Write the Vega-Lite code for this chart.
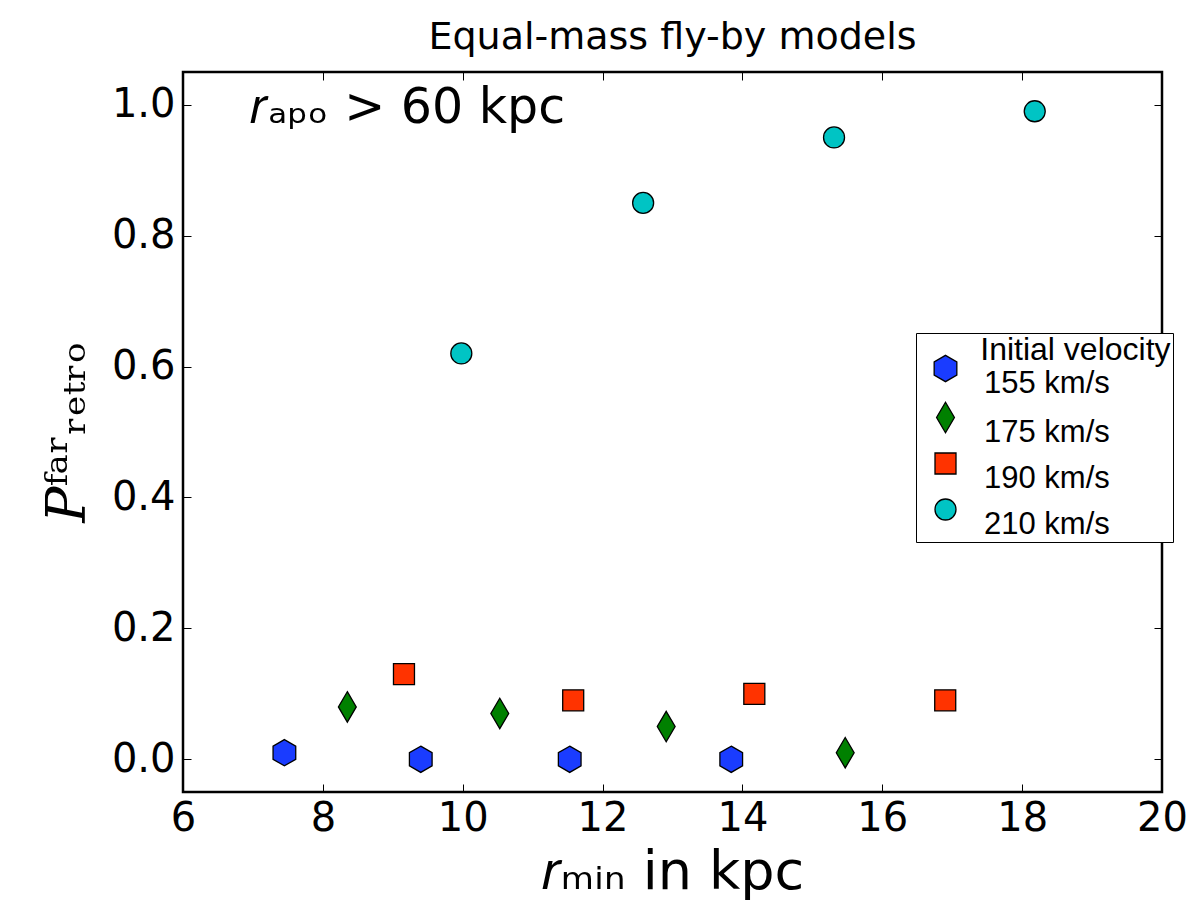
{
  "$schema": "https://vega.github.io/schema/vega-lite/v6.json",
  "width": 979,
  "height": 720,
  "autosize": {"type": "none"},
  "padding": {"left": 183, "top": 72, "right": 33, "bottom": 111},
  "background": "white",
  "title": {"text": "Equal-mass fly-by models", "font": "DejaVu Sans", "fontSize": 38, "fontWeight": "normal", "color": "black", "offset": 15},
  "config": {
    "view": {"stroke": "black", "strokeWidth": 2.5},
    "axis": {"domain": false, "grid": false, "tickColor": "black", "tickWidth": 1, "labelFont": "DejaVu Sans", "labelFontSize": 40, "labelColor": "black", "titleColor": "black", "titleFontWeight": "normal"}
  },
  "datasets": {
    "pts": [
      {"rmin": 7.45, "p": 0.01, "v": "155 km/s"},
      {"rmin": 9.40, "p": 0.0, "v": "155 km/s"},
      {"rmin": 11.53, "p": 0.0, "v": "155 km/s"},
      {"rmin": 13.84, "p": 0.0, "v": "155 km/s"},
      {"rmin": 8.35, "p": 0.08, "v": "175 km/s"},
      {"rmin": 10.53, "p": 0.07, "v": "175 km/s"},
      {"rmin": 12.91, "p": 0.05, "v": "175 km/s"},
      {"rmin": 15.47, "p": 0.01, "v": "175 km/s"},
      {"rmin": 9.16, "p": 0.13, "v": "190 km/s"},
      {"rmin": 11.58, "p": 0.09, "v": "190 km/s"},
      {"rmin": 14.17, "p": 0.10, "v": "190 km/s"},
      {"rmin": 16.90, "p": 0.09, "v": "190 km/s"},
      {"rmin": 9.98, "p": 0.62, "v": "210 km/s"},
      {"rmin": 12.58, "p": 0.85, "v": "210 km/s"},
      {"rmin": 15.31, "p": 0.95, "v": "210 km/s"},
      {"rmin": 18.18, "p": 0.99, "v": "210 km/s"}
    ],
    "note": [
      {"rmin": 6.96, "p": 0.995, "label": "𝑟ₐₚₒ > 60 kpc"}
    ]
  },
  "layer": [
    {
      "data": {"name": "pts"},
      "mark": {"type": "point", "filled": true, "opacity": 1, "stroke": "black", "strokeWidth": 1.3, "size": 441},
      "encoding": {
        "x": {"field": "rmin", "type": "quantitative", "scale": {"domain": [6, 20], "nice": false, "zero": false},
              "axis": {"orient": "bottom", "values": [6, 8, 10, 12, 14, 16, 18, 20], "tickSize": -8, "labelPadding": 14, "labelFlush": false,
                       "title": "𝑟ₘᵢₙ in kpc", "titleFont": "DejaVu Sans", "titleFontSize": 54, "titlePadding": 7}},
        "y": {"field": "p", "type": "quantitative", "scale": {"domain": [-0.05, 1.05], "nice": false, "zero": false},
              "axis": {"orient": "left", "values": [0, 0.2, 0.4, 0.6, 0.8, 1.0], "format": ".1f", "tickSize": -8, "labelPadding": 16, "labelFlush": false,
                       "title": "𝑃ᶠᵃʳᵣₑₜᵣₒ", "titleFont": "DejaVu Serif", "titleFontSize": 54, "titlePadding": 16}},
        "shape": {"field": "v", "type": "nominal",
                  "scale": {"domain": ["155 km/s", "175 km/s", "190 km/s", "210 km/s"],
                            "range": ["M0,-1.25L1.08,-0.625L1.08,0.625L0,1.25L-1.08,0.625L-1.08,-0.625Z", "M0,-1.45L0.85,0L0,1.45L-0.85,0Z", "M-1,-1L1,-1L1,1L-1,1Z", "circle"]},
                  "legend": {"title": "\u200b\u00a0\u00a0\u00a0\u00a0\u00a0\u00a0\u00a0Initial velocity"}},
        "color": {"field": "v", "type": "nominal",
                  "scale": {"domain": ["155 km/s", "175 km/s", "190 km/s", "210 km/s"], "range": ["#1a3cff", "#008000", "#ff3300", "#00c4c4"]},
                  "legend": {"title": "\u200b\u00a0\u00a0\u00a0\u00a0\u00a0\u00a0\u00a0Initial velocity", "orient": "none", "legendX": 733, "legendY": 261,
                             "strokeColor": "black", "fillColor": "white", "padding": 2, "cornerRadius": 0,
                             "titleFont": "Liberation Sans", "titleFontSize": 32, "titleFontWeight": "normal", "titleColor": "black", "titlePadding": -14, "titleLimit": 500,
                             "labelFont": "Liberation Sans", "labelFontSize": 31, "labelColor": "black", "labelOffset": 23, "labelBaseline": "top", "labelLimit": 400,
                             "symbolOffset": 12,
                             "rowPadding": 0, "symbolStrokeColor": "black", "symbolStrokeWidth": 1.3, "symbolSize": 441, "symbolOpacity": 1}}
      }
    },
    {
      "data": {"name": "note"},
      "mark": {"type": "text", "align": "left", "baseline": "middle", "font": "DejaVu Sans", "fontSize": 49, "color": "black"},
      "encoding": {
        "x": {"field": "rmin", "type": "quantitative",
              "axis": {"orient": "top", "values": [6, 8, 10, 12, 14, 16, 18, 20], "tickSize": -8, "labels": false, "title": null}},
        "y": {"field": "p", "type": "quantitative",
              "axis": {"orient": "right", "values": [0, 0.2, 0.4, 0.6, 0.8, 1.0], "tickSize": -8, "labels": false, "title": null}},
        "text": {"field": "label", "type": "nominal"}
      }
    }
  ],
  "resolve": {"axis": {"x": "independent", "y": "independent"}}
}
